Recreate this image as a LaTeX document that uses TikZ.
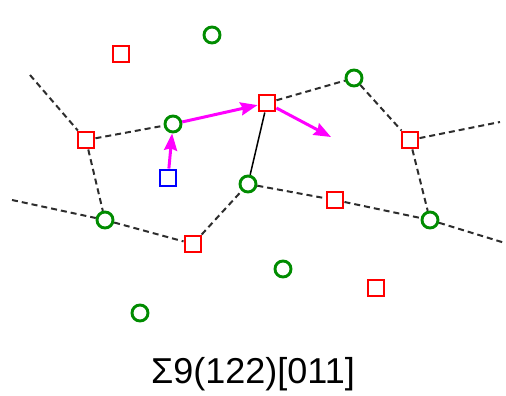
\documentclass[tikz,border=0pt]{standalone}
\usepackage{fontspec}
\setmainfont{Liberation Sans}
\usetikzlibrary{arrows.meta}
\definecolor{gbgreen}{RGB}{0,140,0}
\definecolor{dashgray}{RGB}{45,45,45}
\definecolor{pmag}{RGB}{255,0,255}
\definecolor{pred}{RGB}{255,0,0}
\definecolor{pblue}{RGB}{0,0,255}
\tikzset{
  rsq/.style={draw=pred, line width=2.9pt, minimum size=16pt, inner sep=0pt, fill=white},
  bsq/.style={draw=pblue, line width=2.9pt, minimum size=16pt, inner sep=0pt, fill=white},
  gcirc/.style={circle, draw=gbgreen, line width=2.9pt, minimum size=16pt, inner sep=0pt, fill=white},
  bnd/.style={dashgray, line width=2pt, dash pattern=on 6pt off 4pt},
  solidbnd/.style={black, line width=1.5pt},
  marrow/.style={pmag, line width=3pt, -{Stealth[length=17pt,width=13pt,inset=2pt]}},
}
\begin{document}
\begin{tikzpicture}[x=1pt,y=-1pt]
\useasboundingbox (0,0) rectangle (506,396);
% free ends
\coordinate (e1) at (30,75);
\coordinate (e2) at (12,200);
\coordinate (e3) at (505,243);
\coordinate (e4) at (500,122);
\coordinate (e5) at (331,137);
% red squares
\node[rsq] (r1) at (121,54) {};
\node[rsq] (r2) at (86,140) {};
\node[rsq] (r3) at (267,103) {};
\node[rsq] (r4) at (410,140) {};
\node[rsq] (r5) at (335,200) {};
\node[rsq] (r6) at (193,244) {};
\node[rsq] (r7) at (376,288) {};
% blue square
\node[bsq] (b1) at (168,178) {};
% green circles
\node[gcirc] (g1) at (212,35) {};
\node[gcirc] (g2) at (173,124) {};
\node[gcirc] (g3) at (248,184) {};
\node[gcirc] (g4) at (354,78) {};
\node[gcirc] (g5) at (105,220) {};
\node[gcirc] (g6) at (430,220) {};
\node[gcirc] (g7) at (283,269) {};
\node[gcirc] (g8) at (140,313) {};
% boundaries
\draw[bnd] (e1) -- (r2);
\draw[bnd] (r2) -- (g2);
\draw[bnd] (r2) -- (g5);
\draw[bnd] (e2) -- (g5);
\draw[bnd] (g5) -- (r6);
\draw[bnd] (r6) -- (g3);
\draw[bnd] (g3) -- (r5);
\draw[bnd] (r5) -- (g6);
\draw[bnd] (g6) -- (e3);
\draw[bnd] (r3) -- (g4);
\draw[bnd] (g4) -- (r4);
\draw[bnd] (r4) -- (e4);
\draw[bnd] (r4) -- (g6);
\draw[solidbnd] (r3) -- (g3);
% arrows
\draw[marrow] (b1) -- (g2);
\draw[marrow] (g2) -- (r3);
\draw[marrow] (r3) -- (e5);
% caption
\node[font=\fontsize{36}{40}\selectfont] (cap) at (253,374) {Σ9(122)[011]};
\end{tikzpicture}
\end{document}
